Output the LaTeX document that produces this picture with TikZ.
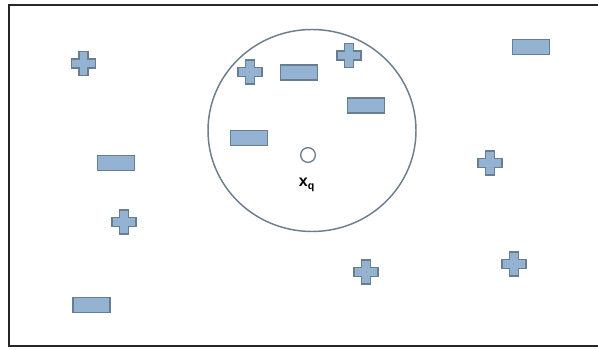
\documentclass[tikz,border=0pt]{standalone}
\usepackage{fontspec}
\setmainfont{Liberation Sans}
\definecolor{chfill}{RGB}{148,178,210}
\definecolor{chline}{RGB}{105,125,145}
\definecolor{ringc}{RGB}{108,126,142}
\tikzset{
  pluss/.pic={\filldraw[fill=chfill,draw=chline,line width=1.2pt]
    (-4.5,-12)--(4.5,-12)--(4.5,-4.5)--(12,-4.5)--(12,4.5)--(4.5,4.5)--(4.5,12)--(-4.5,12)--(-4.5,4.5)--(-12,4.5)--(-12,-4.5)--(-4.5,-4.5)--cycle;},
  minuss/.style={draw=chline,fill=chfill,line width=1.2pt,minimum width=28pt,minimum height=11pt,inner sep=0pt,rectangle},
}
\begin{document}
\begin{tikzpicture}[x=0.75pt,y=-0.75pt]
\useasboundingbox (0,0) rectangle (598,349);
\begin{scope}
\clip (0,0) rectangle (598,349);
\draw[line width=1.5pt,black!85] (9,5) rectangle (602,346);
\end{scope}
\draw[ringc,line width=1.1pt] (312,130.5) ellipse [x radius=104, y radius=101];
\node[circle,draw=ringc,line width=1pt,minimum size=11pt,inner sep=0pt] (xq) at (308,155) {};
\node[font=\bfseries\fontsize{12}{14}\selectfont,inner sep=0pt] (lab) at (307,185) {x\textsubscript{q}};
% pluses
\pic at (83.5,63.5) {pluss};
\pic at (124,222) {pluss};
\pic at (250,72) {pluss};
\pic at (349,55.5) {pluss};
\pic at (490,163) {pluss};
\pic at (366,272) {pluss};
\pic at (514,264) {pluss};
% minuses
\node[minuss] (m1) at (116,163) {};
\node[minuss] (m2) at (91.5,305) {};
\node[minuss] (m3) at (299,72.5) {};
\node[minuss] (m4) at (366,105.5) {};
\node[minuss] (m5) at (249,138) {};
\node[minuss] (m6) at (531,47) {};
\end{tikzpicture}
\end{document}
